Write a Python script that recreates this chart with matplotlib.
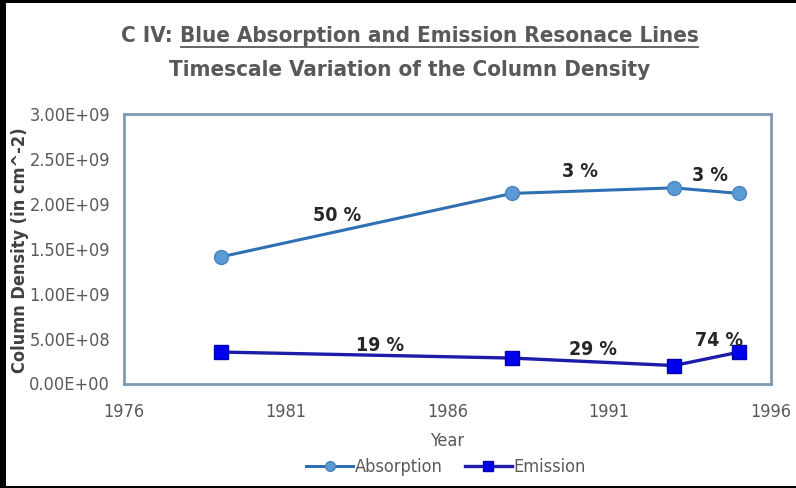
import matplotlib.pyplot as plt
from matplotlib.patches import Rectangle
from matplotlib.ticker import FuncFormatter

years = [1979, 1988, 1993, 1995]
absorption = [1.41e9, 2.116e9, 2.178e9, 2.116e9]
emission = [0.35e9, 0.283e9, 0.20e9, 0.348e9]

abs_pct = ['50 %', '3 %', '3 %']
em_pct = ['19 %', '29 %', '74 %']

xticks = [1976, 1981, 1986, 1991, 1996]
yticks = [0, 5e8, 1e9, 1.5e9, 2e9, 2.5e9, 3e9]

W, H = 796, 488
gray = '#595959'
plt.rcParams['font.family'] = ['DejaVu Sans']
plt.rcParams['font.stretch'] = 'condensed'

fig = plt.figure(figsize=(W/100, H/100), dpi=100)
fig.patch.set_facecolor('black')
fig.add_artist(Rectangle((6/W, 2/H), 1-6/W, 1-5/H, transform=fig.transFigure,
                         facecolor='white', edgecolor='none', zorder=0))

ax = fig.add_axes([124/W, (H-383.5)/H, (771-124)/W, (383.5-114)/H])
ax.set_facecolor('white')

ax.plot(years, absorption, color='#2f6fb3', lw=2.2, marker='o', ms=10,
        mfc='#5b9bd5', mec='#4a83bd', mew=1, label='Absorption')
ax.plot(years, emission, color='#1c1ca8', lw=2.4, marker='s', ms=10,
        mfc='#0000ee', mec='#0000b0', mew=1, label='Emission')

# percent changes between consecutive observations
abs_pos = [(1982.6, 1.865e9), (1990.1, 2.355e9), (1994.1, 2.31e9)]
em_pos = [(1983.9, 0.42e9), (1990.5, 0.38e9), (1994.4, 0.48e9)]
for t, (x, y) in zip(abs_pct, abs_pos):
    ax.text(x, y, t, ha='center', va='center', fontsize=14, fontweight='bold', color='#262626')
for t, (x, y) in zip(em_pct, em_pos):
    ax.text(x, y, t, ha='center', va='center', fontsize=14, fontweight='bold', color='#262626')

ax.set_xlim(1976, 1996)
ax.set_ylim(0, 3e9)
ax.set_xticks(xticks)
ax.set_yticks(yticks)
ax.yaxis.set_major_formatter(FuncFormatter(lambda v, p: f'{v:.2E}'))
ax.tick_params(length=0, labelsize=13, labelcolor=gray)
ax.tick_params(axis='x', pad=14)
ax.tick_params(axis='y', pad=10)
for s in ax.spines.values():
    s.set_color('#7f9bb3')
    s.set_linewidth(2)

ax.set_xlabel('Year', fontsize=13, color=gray, labelpad=8)
fig.text(20/W, 1-250/H, 'Column Density (in cm^-2)', rotation=90, ha='center', va='center',
         fontsize=13, fontweight='bold', color='#404040')

fig.text(180/W, 1-36/H, 'C IV: ', ha='right', va='center', fontsize=16,
         fontweight='bold', color=gray)
fig.text(180/W, 1-36/H, 'Blue Absorption and Emission Resonace Lines', ha='left', va='center',
         fontsize=16, fontweight='bold', color=gray)
fig.add_artist(plt.Line2D([181/W, 698/W], [1-47/H, 1-47/H], color=gray, lw=1.3,
                          transform=fig.transFigure))
fig.text(410/W, 1-70/H, 'Timescale Variation of the Column Density', ha='center', va='center',
         fontsize=16, fontweight='bold', color=gray)

ax.legend(loc='center', bbox_to_anchor=(446/W, 1-467/H), bbox_transform=fig.transFigure,
          ncol=2, frameon=False, fontsize=13, labelcolor=gray, handlelength=2.6,
          handletextpad=0.1, columnspacing=1.2, markerscale=0.7)

fig.savefig('out.png', dpi=100, facecolor=fig.get_facecolor())
